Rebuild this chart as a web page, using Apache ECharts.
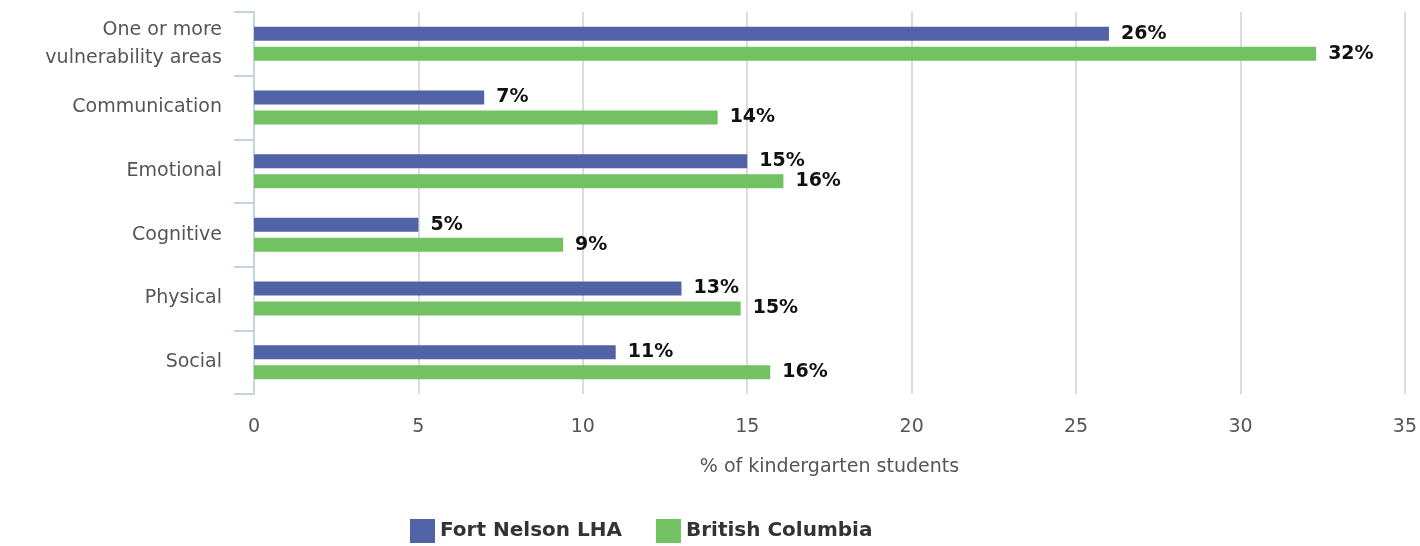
<!DOCTYPE html>
<html>
<head>
<meta charset="utf-8">
<script src="https://cdn.jsdelivr.net/npm/echarts@6/dist/echarts.min.js"></script>
<style>
  html, body { margin: 0; padding: 0; background: #fff; }
  #chart { width: 1420px; height: 546px; }
</style>
</head>
<body>
<div id="chart"></div>
<script>
const categories = ['One or more\nvulnerability areas', 'Communication', 'Emotional', 'Cognitive', 'Physical', 'Social']
const fortNelson = [26.0, 7.0, 15.0, 5.0, 13.0, 11.0]
const britishColumbia = [32.3, 14.1, 16.1, 9.4, 14.8, 15.7]
const xTicks = [0, 35, 5]  // min, max, interval

const font = 'DejaVu Sans'
const chart = echarts.init(document.getElementById('chart'))

const labelStyle = {
  show: true,
  position: 'right',
  distance: 12,
  color: '#111',
  fontWeight: 'bold',
  fontSize: 19,
  fontFamily: font,
  formatter: p => Math.round(p.value) + '%'
}

chart.setOption({
  animation: false,
  grid: { left: 254, right: 15, top: 12, bottom: 152 },
  legend: {
    bottom: -2,
    left: 405,
    itemWidth: 25,
    itemHeight: 24,
    itemGap: 34,
    icon: 'rect',
    textStyle: { fontSize: 20, fontFamily: font, fontWeight: 'bold', color: '#333' },
    data: ['Fort Nelson LHA', 'British Columbia']
  },
  xAxis: {
    type: 'value',
    min: xTicks[0],
    max: xTicks[1],
    interval: xTicks[2],
    name: '% of kindergarten students',
    nameLocation: 'middle',
    nameGap: 64,
    nameTextStyle: { fontSize: 19, fontFamily: font, color: '#555' },
    axisLine: { show: false },
    axisTick: { show: false },
    axisLabel: { fontSize: 19, fontFamily: font, color: '#555', margin: 24 },
    splitLine: { lineStyle: { color: '#dcdcdc', width: 2 } }
  },
  yAxis: {
    type: 'category',
    inverse: true,
    data: categories,
    axisLine: { show: true, lineStyle: { color: '#c5d3e3', width: 2 } },
    axisTick: { show: true, length: 20, lineStyle: { color: '#c5d3e3', width: 2 } },
    axisLabel: { fontSize: 19, fontFamily: font, color: '#555', margin: 32, lineHeight: 28 }
  },
  series: [
    {
      name: 'Fort Nelson LHA',
      type: 'bar',
      data: fortNelson,
      barWidth: 14,
      barGap: '43%',
      itemStyle: { color: '#5262a6' },
      label: labelStyle
    },
    {
      name: 'British Columbia',
      type: 'bar',
      data: britishColumbia,
      barWidth: 14,
      itemStyle: { color: '#72c162' },
      label: labelStyle
    }
  ]
})
</script>
</body>
</html>
